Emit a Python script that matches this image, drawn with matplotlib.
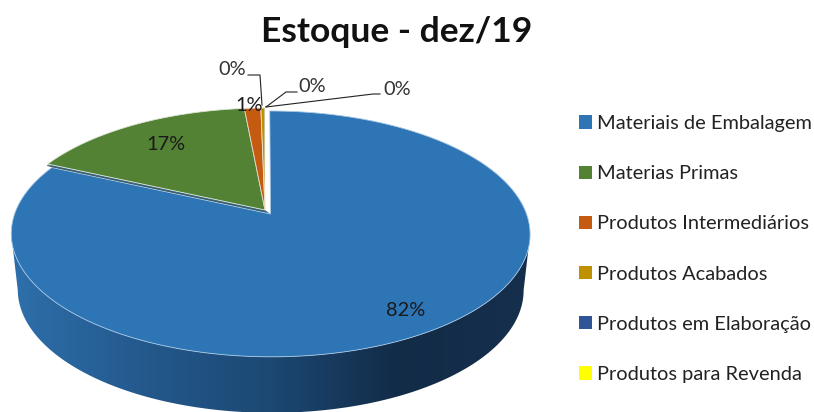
#!/usr/bin/env python3
import numpy as np
from matplotlib import pyplot as plt
from matplotlib.colors import LinearSegmentedColormap
from matplotlib.patches import Patch, Polygon
from matplotlib.transforms import Affine2D

title = 'Estoque - dez/19'
categories = ['Materiais de Embalagem', 'Materias Primas', 'Produtos Intermediários',
	'Produtos Acabados', 'Produtos em Elaboração', 'Produtos para Revenda']
values = [81.8, 16.7, 1.2, 0.27, 0.02, 0.01]
colors = ['#2E75B6', '#548235', '#C55A11', '#BF9000', '#2F5597', '#FFFF00']
wall_colors = ['#2E6FAB', '#24598D', '#1C4873', '#122B47', '#152F4D']

# perspective of the tilted disc, everything below is in image pixels
CX, CY = 265.0, 210.0
A, B, K = 254.6, 118.4, 0.161
DEPTH = 56.0
FONT = 'Lato'


def warp(pts):
	# unit circle to screen, back of the disc is smaller than the front
	w = 1 + K * pts[:, 1]
	return np.column_stack((CX + A * pts[:, 0] / w, CY - B * pts[:, 1] / w))


def flatten(wedge):
	# scaled up first so the arcs do not get flattened to a few segments
	poly = wedge.get_path().to_polygons(transform=Affine2D().scale(1000))[0]
	return poly / 1000


def plotPie():
	plt.rcParams['font.family'] = [FONT, 'DejaVu Sans']
	fig, ax = plt.subplots(figsize=(8.14, 4.12), dpi=100)
	fig.subplots_adjust(0, 0, 1, 1)

	explode = [0.04, 0, 0, 0, 0, 0]
	wedges, _ = ax.pie(values, colors=colors, explode=explode, startangle=90, counterclock=False)
	polys = [flatten(w) for w in wedges]
	for w in wedges:
		w.remove()
	ax.set_aspect('auto')
	ax.axis('off')

	# side wall of the big slice
	mid_angle = np.radians(0.5 * values[0] / sum(values) * 360)
	shift = np.array([np.sin(mid_angle), np.cos(mid_angle)]) * explode[0]
	rim = polys[0][np.abs(np.hypot(*(polys[0] - shift).T) - 1) < 0.002]
	rim = warp(rim)
	rim = rim[rim[:, 1] >= 232]
	rim = rim[np.argsort(rim[:, 0])]
	low = rim.copy()
	mid = 0.5 * (rim[:, 0].min() + rim[:, 0].max())
	low[:, 0] = mid + (low[:, 0] - mid) * 0.975
	low[:, 1] += DEPTH
	wall = Polygon(np.vstack((rim, low[::-1])), closed=True, transform=ax.transData)
	cmap = LinearSegmentedColormap.from_list('wall', wall_colors)
	im = ax.imshow(np.linspace(0, 1, 256)[None, :], cmap=cmap, aspect='auto',
		extent=(rim[:, 0].min(), rim[:, 0].max(), 420, 200), zorder=1)
	im.set_clip_path(wall)
	ax.set_xlim(0, 814)
	ax.set_ylim(412, 0)

	# close the gap the exploded slice leaves against the green one
	end_angle = np.radians(values[0] / sum(values) * 360)
	end = np.array([np.sin(end_angle), np.cos(end_angle)])
	gap = warp(np.array([shift, end + shift, end, [0, 0]]))
	ax.add_patch(Polygon(gap, closed=True, facecolor=colors[0], edgecolor='none', zorder=1.5))

	# top faces
	edges = ['#A9C8E4', '#DDE6D6', '#E8D8CC', '#EFE6C8', 'none', 'none']
	for poly, col, edge in zip(polys, colors, edges):
		ax.add_patch(Polygon(warp(poly), closed=True, facecolor=col, edgecolor=edge, lw=0.6, zorder=2))

	# thin dark edge under the green slice
	line = warp(np.array([end, [0, 0]])) + [0, 1.6]
	ax.plot(line[:, 0], line[:, 1], color='#4A5A50', lw=0.8, zorder=2.5)

	# labels, percentages come from the values
	pct = ['%.0f%%' % v for v in values]
	size = 14.4
	ax.text(406, 311, pct[0], fontsize=size, ha='center', va='center', color='#1A1A1A', zorder=5)
	ax.text(166, 144, pct[1], fontsize=size, ha='center', va='center', color='#1A1A1A', zorder=5)
	ax.text(249, 105, pct[2], fontsize=size, ha='center', va='center', color='#1A1A1A', zorder=5)
	ax.text(232, 69, pct[3], fontsize=size, ha='center', va='center', color='#333333', zorder=5)
	ax.text(312, 86, pct[4], fontsize=size, ha='center', va='center', color='#333333', zorder=5)
	ax.text(397, 89, pct[5], fontsize=size, ha='center', va='center', color='#333333', zorder=5)
	ax.plot([248, 260, 262], [75, 75, 105], color='#222222', lw=0.8, zorder=4)
	ax.plot([297, 286, 266], [92, 92, 107], color='#222222', lw=0.8, zorder=4)
	ax.plot([380, 373, 266], [94, 94, 107], color='#222222', lw=0.8, zorder=4)

	ax.text(396.5, 32, title, fontsize=25.5, fontweight='bold', ha='center', va='center', color='#111111')

	handles = [Patch(facecolor=c, edgecolor='none') for c in colors]
	ax.legend(handles, categories, loc='upper left', bbox_to_anchor=(579, 115), bbox_transform=ax.transData,
		frameon=False, fontsize=14.4, handlelength=0.65, handleheight=0.65, handletextpad=0.25,
		labelspacing=1.66, borderpad=0, borderaxespad=0, labelcolor='#222222')

	fig.savefig('out.png', dpi=100, facecolor='white')


def main():
	plotPie()


if __name__ == '__main__':
	main()
